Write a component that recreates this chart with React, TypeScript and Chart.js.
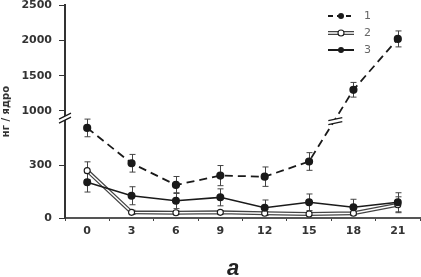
import React, { useEffect, useRef } from "react";
import { Chart, registerables } from "chart.js";

Chart.register(...registerables);

// ---------- data ----------
const days = ["0", "3", "6", "9", "12", "15", "18", "21"];
const series1 = [510, 310, 187, 240, 234, 320, 1300, 2020];
const series1Err = [50, 50, 48, 57, 55, 50, 104, 113];
const series2 = [268, 32, 30, 32, 27, 23, 27, 75];
const series2Err = [50, 12, 10, 10, 10, 10, 10, 45];
const series3 = [202, 126, 98, 117, 58, 89, 61, 89];
const series3Err = [55, 51, 45, 48, 44, 47, 45, 54];
const legendLabels = ["1", "2", "3"];
const yTickValues = [0, 300, 1000, 1500, 2000, 2500];
const yTitle = "нг / ядро";
const panelLabel = "a";

// ---------- broken axis mapping ----------
const LOW_LIMIT = 700; // values below this sit on the lower segment
const UPPER_BASE = 1000;
const UPPER_BASE_U = 606;
const UPPER_RATIO = 0.4;
const AXIS_MAX_U = 1206;
const BREAK_U = 560;
const toU = (v: number) =>
  v < LOW_LIMIT ? Math.max(0, v) : UPPER_BASE_U + (v - UPPER_BASE) * UPPER_RATIO;

const INK = "#1a1a1a";
const TICK_FONT = { family: "DejaVu Sans", size: 11, weight: "bold" as const };

const errorBarPlugin = {
  id: "errorBars",
  beforeDatasetsDraw(chart: any) {
    const { ctx } = chart;
    const xs = chart.scales.x;
    const ys = chart.scales.y;
    const groups: [number[], number[]][] = [
      [series1, series1Err],
      [series2, series2Err],
      [series3, series3Err],
    ];
    ctx.save();
    ctx.strokeStyle = "#444";
    ctx.lineWidth = 1;
    groups.forEach(([vals, errs]) => {
      vals.forEach((v, i) => {
        const px = Math.round(xs.getPixelForValue(i)) + 0.5;
        const top = ys.getPixelForValue(toU(v + errs[i]));
        const bot = ys.getPixelForValue(toU(v - errs[i]));
        ctx.beginPath();
        ctx.moveTo(px, top);
        ctx.lineTo(px, bot);
        ctx.moveTo(px - 3, top);
        ctx.lineTo(px + 3, top);
        ctx.moveTo(px - 3, bot);
        ctx.lineTo(px + 3, bot);
        ctx.stroke();
      });
    });
    ctx.restore();
  },
};

const breakPlugin = {
  id: "breaks",
  afterDraw(chart: any) {
    const { ctx, chartArea } = chart;
    const xs = chart.scales.x;
    const ys = chart.scales.y;
    const by = ys.getPixelForValue(BREAK_U);
    const drawMark = (cx: number, cy: number, half: number, rise: number, gap: number) => {
      ctx.save();
      ctx.fillStyle = "#fff";
      ctx.beginPath();
      ctx.moveTo(cx - half, cy + rise - gap / 2);
      ctx.lineTo(cx + half, cy - rise - gap / 2);
      ctx.lineTo(cx + half, cy - rise + gap / 2);
      ctx.lineTo(cx - half, cy + rise + gap / 2);
      ctx.closePath();
      ctx.fill();
      ctx.strokeStyle = INK;
      ctx.lineWidth = 1.2;
      ctx.beginPath();
      ctx.moveTo(cx - half, cy + rise - gap / 2);
      ctx.lineTo(cx + half, cy - rise - gap / 2);
      ctx.moveTo(cx - half, cy + rise + gap / 2);
      ctx.lineTo(cx + half, cy - rise + gap / 2);
      ctx.stroke();
      ctx.restore();
    };
    // axis break
    drawMark(chartArea.left, by - 1, 6, 3, 4);
    // break on series 1 line
    const u1 = series1.map(toU);
    for (let i = 0; i < u1.length - 1; i++) {
      if (u1[i] < BREAK_U && u1[i + 1] > BREAK_U) {
        const t = (BREAK_U - u1[i]) / (u1[i + 1] - u1[i]);
        const x0 = xs.getPixelForValue(i);
        const x1 = xs.getPixelForValue(i + 1);
        const cx = x0 + (x1 - x0) * t;
        drawMark(cx, by + 2, 7, 1.5, 4);
      }
    }
  },
};

const legendPlugin = {
  id: "customLegend",
  afterDraw(chart: any) {
    const { ctx, chartArea } = chart;
    const x0 = chartArea.right - 92;
    const x1 = x0 + 26;
    const mx = x0 + 13;
    const ys = [chartArea.top + 11, chartArea.top + 28, chartArea.top + 45];
    ctx.save();
    // 1: dashed with filled marker
    ctx.strokeStyle = INK;
    ctx.lineWidth = 2;
    ctx.setLineDash([5, 4]);
    ctx.beginPath();
    ctx.moveTo(x0, ys[0]);
    ctx.lineTo(x1, ys[0]);
    ctx.stroke();
    ctx.setLineDash([]);
    ctx.fillStyle = INK;
    ctx.beginPath();
    ctx.arc(mx, ys[0], 3, 0, Math.PI * 2);
    ctx.fill();
    // 2: outlined line, open marker
    ctx.strokeStyle = "#444";
    ctx.lineWidth = 4;
    ctx.beginPath();
    ctx.moveTo(x0, ys[1]);
    ctx.lineTo(x1, ys[1]);
    ctx.stroke();
    ctx.strokeStyle = "#fff";
    ctx.lineWidth = 1.5;
    ctx.beginPath();
    ctx.moveTo(x0, ys[1]);
    ctx.lineTo(x1, ys[1]);
    ctx.stroke();
    ctx.fillStyle = "#fff";
    ctx.strokeStyle = INK;
    ctx.lineWidth = 1.1;
    ctx.beginPath();
    ctx.arc(mx, ys[1], 3, 0, Math.PI * 2);
    ctx.fill();
    ctx.stroke();
    // 3: solid with filled marker
    ctx.strokeStyle = INK;
    ctx.lineWidth = 2;
    ctx.beginPath();
    ctx.moveTo(x0, ys[2]);
    ctx.lineTo(x1, ys[2]);
    ctx.stroke();
    ctx.fillStyle = INK;
    ctx.beginPath();
    ctx.arc(mx, ys[2], 3, 0, Math.PI * 2);
    ctx.fill();
    // texts
    ctx.fillStyle = "#666";
    ctx.font = "11px 'DejaVu Sans'";
    ctx.textAlign = "left";
    ctx.textBaseline = "middle";
    legendLabels.forEach((l, i) => ctx.fillText(l, x1 + 10, ys[i] + 0.5));
    ctx.restore();
  },
};

export default function App() {
  const canvasRef = useRef<HTMLCanvasElement | null>(null);

  useEffect(() => {
    if (!canvasRef.current) return;
    const chart = new Chart(canvasRef.current, {
      type: "line",
      data: {
        labels: days,
        datasets: [
          {
            label: legendLabels[0],
            data: series1.map(toU),
            borderColor: INK,
            borderWidth: 1.8,
            borderDash: [8, 5],
            pointRadius: 3.2,
            pointBackgroundColor: INK,
            pointBorderColor: INK,
            order: 1,
          },
          {
            label: legendLabels[1],
            data: series2.map(toU),
            borderColor: "#ffffff",
            borderWidth: 1.4,
            pointRadius: 3,
            pointBackgroundColor: "#ffffff",
            pointBorderColor: INK,
            pointBorderWidth: 1.1,
            order: 2,
          },
          {
            label: "2-outline",
            data: series2.map(toU),
            borderColor: "#444",
            borderWidth: 4,
            pointRadius: 0,
            order: 3,
          },
          {
            label: legendLabels[2],
            data: series3.map(toU),
            borderColor: INK,
            borderWidth: 1.6,
            pointRadius: 3.2,
            pointBackgroundColor: INK,
            pointBorderColor: INK,
            order: 0,
          },
        ],
      },
      options: {
        animation: false,
        responsive: false,
        devicePixelRatio: 1,
        layout: { autoPadding: false, padding: { top: 5, right: 1, left: 0, bottom: 0 } },
        plugins: {
          legend: { display: false },
          tooltip: { enabled: false },
        },
        scales: {
          x: {
            type: "category",
            offset: true,
            grid: { offset: true, drawOnChartArea: false, tickLength: 3, color: "#444" },
            border: { color: "#555", width: 2 },
            ticks: { font: TICK_FONT, color: "#333", padding: 4, maxRotation: 0 },
            afterFit: (s: any) => {
              s.height = 59;
              s.paddingLeft = 0;
              s.paddingRight = 0;
            },
          },
          y: {
            type: "linear",
            min: 0,
            max: AXIS_MAX_U,
            grid: { drawOnChartArea: false, tickLength: 6, color: "#333" },
            border: { color: "#333", width: 2 },
            ticks: {
              font: TICK_FONT,
              color: "#333",
              padding: 7,
              callback: (_v: any, i: number) => String(yTickValues[i]),
            },
            afterBuildTicks: (s: any) => {
              s.ticks = yTickValues.map((v) => ({ value: toU(v) }));
            },
            title: {
              display: true,
              text: yTitle,
              color: "#333",
              font: { family: "DejaVu Sans", size: 10, weight: "bold" },
              padding: { top: 0, bottom: 0 },
            },
            afterFit: (s: any) => {
              s.width = 65;
              s.paddingTop = 0;
              s.paddingBottom = 0;
            },
          },
        },
      },
      plugins: [errorBarPlugin, breakPlugin, legendPlugin],
    } as any);
    return () => chart.destroy();
  }, []);

  return (
    <div style={{ position: "absolute", left: 0, top: 0, width: 421, height: 277, background: "#fff" }}>
      <canvas ref={canvasRef} width={421} height={277} style={{ display: "block" }} />
      <div
        style={{
          position: "absolute",
          left: 233,
          top: 256,
          transform: "translateX(-50%)",
          font: "italic bold 22px 'Liberation Sans', Arial, sans-serif",
          color: "#222",
          lineHeight: "24px",
        }}
      >
        {panelLabel}
      </div>
    </div>
  );
}
